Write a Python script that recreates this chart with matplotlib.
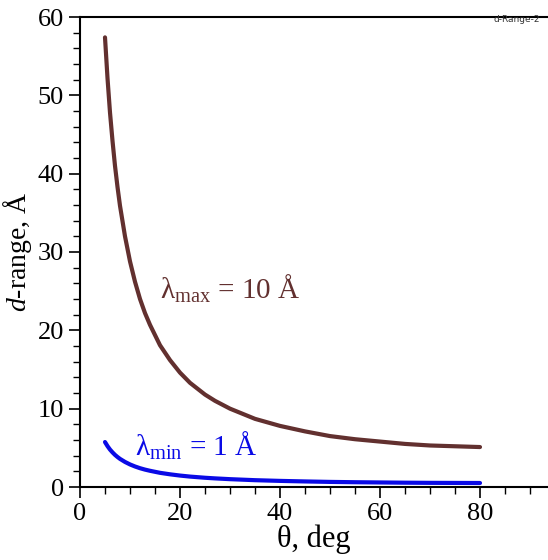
import numpy as np
import matplotlib
matplotlib.use("Agg")
import matplotlib.pyplot as plt
from matplotlib.ticker import MultipleLocator

plt.rcParams['font.family'] = ['Liberation Serif', 'DejaVu Serif']
plt.rcParams['mathtext.fontset'] = 'custom'
plt.rcParams['mathtext.rm'] = 'Liberation Serif'
plt.rcParams['mathtext.it'] = 'Liberation Serif:italic'

# values
theta = [5, 5.5, 6, 6.5, 7, 7.5, 8, 9, 10, 11, 12, 13, 14, 16, 18, 20, 22, 25, 27, 30, 35, 40, 45, 50, 55, 60,
         65, 70, 75, 80]
d_max = [57.4, 52.2, 47.8, 44.2, 41.0, 38.3, 35.9, 32.0, 28.8, 26.2, 24.0, 22.2, 20.7, 18.1, 16.2, 14.6, 13.3, 11.8,
         11.0, 10.0, 8.7, 7.8, 7.1, 6.5, 6.1, 5.8, 5.5, 5.3, 5.2, 5.1]
d_min = [5.74, 5.22, 4.78, 4.42, 4.10, 3.83, 3.59, 3.20, 2.88, 2.62, 2.40, 2.22, 2.07, 1.81, 1.62, 1.46, 1.33, 1.18,
         1.10, 1.00, 0.87, 0.78, 0.71, 0.65, 0.61, 0.58, 0.55, 0.53, 0.52, 0.51]

brown = '#62302f'
blue = '#0a0ae6'

fig = plt.figure(figsize=(5.48, 5.60), dpi=100)
ax = fig.add_axes([80/548, 1-487/560, 1-80/548, (487-17)/560])

ax.plot(theta, d_max, color=brown, lw=3.0, solid_capstyle='round')
ax.plot(theta, d_min, color=blue, lw=3.0, solid_capstyle='round')

ax.set_xlim(0, 93.6)
ax.set_ylim(0, 60)
ax.spines['right'].set_visible(False)
ax.xaxis.set_major_locator(MultipleLocator(20))
ax.xaxis.set_minor_locator(MultipleLocator(5))
ax.yaxis.set_major_locator(MultipleLocator(10))
ax.yaxis.set_minor_locator(MultipleLocator(2))
ax.tick_params(which='major', length=8, width=1.2, labelsize=19, direction='out')
ax.tick_params(which='minor', length=5, width=1.0, direction='out')
for s in ax.spines.values():
    s.set_linewidth(1.5)

ax.set_xlabel('θ, deg', fontsize=22, labelpad=0)
ax.set_ylabel(r'$\it{d}$-range, Å', fontsize=20)
ax.yaxis.set_label_coords(-0.098, 0.5)

ax.text(16, 24, r'λ$_{\rm max}$ = 10 Å', color=brown, fontsize=21)
ax.text(11, 4.0, r'λ$_{\rm min}$ = 1 Å', color=blue, fontsize=21)

fig.text(540/548, 1-20/560, 'd-Range-2', fontsize=6.5, family='DejaVu Sans', color='#333333',
         ha='right', va='center')

fig.savefig('out.png', dpi=100)
